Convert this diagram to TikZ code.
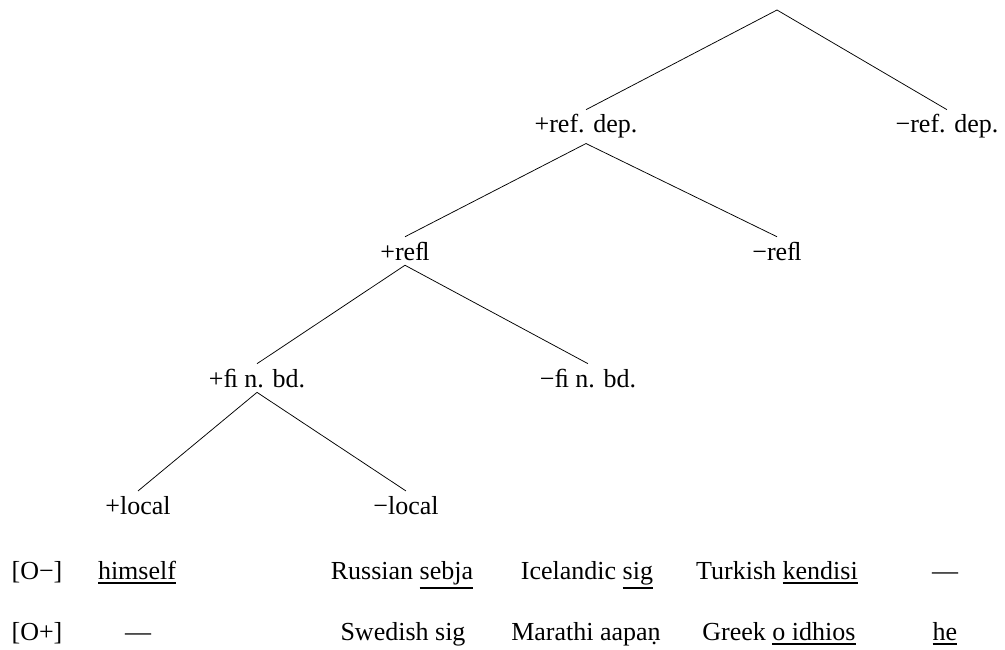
\documentclass[tikz,border=0pt]{standalone}
\usepackage{fontspec}
\setmainfont{Liberation Serif}
\newcommand\undl[1]{\setbox0=\hbox{#1}\mbox{\rlap{\rule[-\dimexpr\dp0+4.5pt\relax]{\wd0}{1.8pt}}\box0}}
\begin{document}
\begin{tikzpicture}[x=1pt,y=-1pt,
  lbl/.style={anchor=base, inner sep=5pt, outer sep=0pt, font=\fontsize{26}{31}\selectfont},
  edge/.style={line width=0.75pt}]
\useasboundingbox (0,0) rectangle (1005,650);
\coordinate (root) at (777,10);
\node[lbl] (rdp) at (586,133) {+ref. dep.};
\node[lbl] (rdm) at (947,133) {−ref. dep.};
\node[lbl] (rfp) at (405,260) {+reﬂ};
\node[lbl] (rfm) at (777,260) {−reﬂ};
\node[lbl] (fbp) at (257,387) {+ﬁ n. bd.};
\node[lbl] (fbm) at (588,387) {−ﬁ n. bd.};
\node[lbl] (lcp) at (138,514) {+local};
\node[lbl] (lcm) at (406,514) {−local};
\draw[edge] (rdp.north) -- (root) -- (rdm.north);
\draw[edge] (rfp.north) -- (rdp.south) -- (rfm.north);
\draw[edge] (fbp.north) -- (rfp.south) -- (fbm.north);
\draw[edge] (lcp.north) -- (fbp.south) -- (lcm.north);
% rows
\node[lbl] (oa) at (37,579) {[O−]};
\node[lbl] (a1) at (137,579) {\undl{himself}};
\node[lbl] (a2) at (402,579) {Russian \undl{sebja}};
\node[lbl] (a3) at (587,579) {Icelandic \undl{sig}};
\node[lbl] (a4) at (777,579) {Turkish \undl{kendisi}};
\node[lbl] (a5) at (945,579) {—};
\node[lbl] (ob) at (37,640) {[O+]};
\node[lbl] (b1) at (138,640) {—};
\node[lbl] (b2) at (403,640) {Swedish sig};
\node[lbl] (b3) at (586,640) {Marathi aapaṇ};
\node[lbl] (b4) at (779,640) {Greek \undl{o idhios}};
\node[lbl] (b5) at (945,640) {\undl{he}};
\end{tikzpicture}
\end{document}
